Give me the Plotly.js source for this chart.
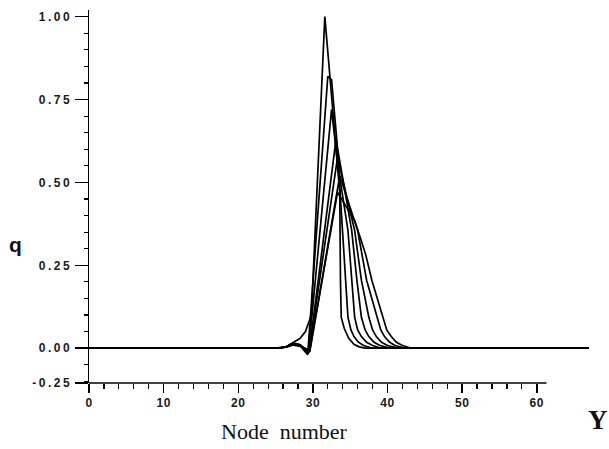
<!DOCTYPE html>
<html><head><meta charset="utf-8">
<script src="https://cdn.plot.ly/plotly-3.0.1.min.js"></script>
<style>
html,body{margin:0;padding:0;background:#fff}
.ytick text{letter-spacing:2.5px}
.xtick text{letter-spacing:0.5px}
</style>
</head><body><div id="chart" style="width:609px;height:449px"></div>
<script>
// Curves of q versus node number
const x0 = [0, 25, 26.5, 27.5, 28.3, 29.0, 29.8, 31.6, 32.7, 33.6, 33.7, 33.8, 34.2, 34.8, 35.5, 36.2, 37.0, 67];
const q0 = [0, 0, 0.005, 0.02, 0.03, 0.05, 0.10, 1.00, 0.72, 0.47, 0.20, 0.093, 0.06, 0.03, 0.012, 0.004, 0, 0];
const x1 = [0, 25.5, 26.5, 27.3, 28.2, 29.3, 32.0, 32.5, 33.2, 34.0, 34.4, 34.7, 35.1, 35.5, 36.1, 36.8, 38.0, 67];
const q1 = [0, 0, 0.005, 0.015, 0.01, -0.02, 0.82, 0.81, 0.63, 0.355, 0.205, 0.093, 0.055, 0.035, 0.018, 0.008, 0, 0];
const x2 = [0, 25.5, 26.5, 27.3, 28.3, 29.4, 32.5, 33.3, 34.7, 35.2, 35.6, 36.0, 36.5, 37.2, 38.0, 39.2, 67];
const q2 = [0, 0, 0.005, 0.015, 0.01, -0.015, 0.72, 0.56, 0.355, 0.205, 0.093, 0.055, 0.035, 0.018, 0.008, 0, 0];
const x3 = [0, 25.5, 26.5, 27.3, 28.3, 29.5, 33.1, 35.2, 35.9, 36.5, 37.0, 37.5, 38.2, 39.0, 40.3, 67];
const q3 = [0, 0, 0.005, 0.015, 0.01, -0.012, 0.63, 0.355, 0.205, 0.093, 0.055, 0.035, 0.018, 0.008, 0, 0];
const x4 = [0, 25.5, 26.5, 27.3, 28.3, 29.5, 33.3, 35.6, 36.5, 37.5, 38.0, 38.5, 39.2, 40.0, 41.4, 67];
const q4 = [0, 0, 0.005, 0.012, 0.008, -0.01, 0.575, 0.355, 0.205, 0.093, 0.055, 0.035, 0.018, 0.008, 0, 0];
const x5 = [0, 25.5, 26.5, 27.3, 28.3, 29.6, 33.6, 35.3, 36.0, 37.2, 38.6, 39.1, 39.6, 40.3, 41.0, 42.3, 67];
const q5 = [0, 0, 0.004, 0.01, 0.006, -0.008, 0.52, 0.40, 0.355, 0.205, 0.093, 0.055, 0.035, 0.018, 0.008, 0, 0];
const x6 = [0, 25.5, 26.5, 27.3, 28.3, 29.6, 33.3, 35.6, 36.4, 37.1, 37.9, 39.4, 39.9, 40.5, 41.2, 42.0, 43.2, 67];
const q6 = [0, 0, 0.004, 0.01, 0.006, -0.006, 0.47, 0.385, 0.33, 0.28, 0.205, 0.093, 0.055, 0.035, 0.018, 0.008, 0, 0];

const xTickVals = [0, 10, 20, 30, 40, 50, 60];
const xTickText = ["0", "10", "20", "30", "40", "50", "60"];
const yTickVals = [-0.105, 0, 0.25, 0.5, 0.75, 1.0];
const yTickText = ["-0.25", "0.00", "0.25", "0.50", "0.75", "1.00"];

const xs = [x0, x1, x2, x3, x4, x5, x6];
const qs = [q0, q1, q2, q3, q4, q5, q6];
const traces = xs.map((x, i) => ({
  x: x, y: qs[i], type: 'scatter', mode: 'lines',
  line: {color: '#000', width: 1.7},
  showlegend: false, hoverinfo: 'skip'
}));

const tickFont = {family: 'Liberation Sans, Arial, sans-serif', size: 12, color: '#1a1a1a', weight: 'bold'};
const xRange = [0, 67];
const yRange = [-0.105, 1.02];

const layout = {
  width: 609, height: 449,
  margin: {l: 89, r: 20, t: 10, b: 66},
  paper_bgcolor: '#fff', plot_bgcolor: '#fff',
  showlegend: false,
  xaxis: {
    range: xRange, showgrid: false, zeroline: false, showline: false,
    tickmode: 'array', tickvals: xTickVals, ticktext: xTickText,
    ticks: 'outside', ticklen: 9, tickwidth: 1.5, tickcolor: '#000',
    tickfont: tickFont,
    minor: {tickmode: 'array', tickvals: [2,4,6,8,12,14,16,18,22,24,26,28,32,34,36,38,42,44,46,48,52,54,56,58],
            ticks: 'outside', ticklen: 5, tickwidth: 1.2, tickcolor: '#000', showgrid: false}
  },
  xaxis2: {
    overlaying: 'x', anchor: 'y', side: 'bottom', range: xRange,
    showgrid: false, zeroline: false, showline: false, showticklabels: false,
    tickmode: 'array', tickvals: xTickVals,
    ticks: 'inside', ticklen: 12, tickwidth: 1.5, tickcolor: '#000'
  },
  yaxis: {
    range: yRange, showgrid: false, zeroline: false,
    showline: true, linecolor: '#000', linewidth: 1.5,
    tickmode: 'array', tickvals: yTickVals, ticktext: yTickText,
    ticks: 'outside', ticklen: 13, tickwidth: 1.5, tickcolor: '#000',
    tickfont: tickFont,
    minor: {tickmode: 'linear', tick0: 0, dtick: 0.05,
            ticks: 'outside', ticklen: 4, tickwidth: 1.2, tickcolor: '#000', showgrid: false}
  },
  yaxis2: {
    overlaying: 'y', anchor: 'x', side: 'left', range: yRange,
    showgrid: false, zeroline: false, showline: false, showticklabels: false,
    tickmode: 'array', tickvals: yTickVals,
    ticks: 'inside', ticklen: 13, tickwidth: 1.5, tickcolor: '#000'
  },
  shapes: [
    {type: 'line', xref: 'x', yref: 'paper', x0: 0, x1: 61.3, y0: 0, y1: 0,
     line: {color: '#000', width: 1.5}}
  ],
  annotations: [
    {text: 'Node\u00a0\u00a0number', xref: 'x', yref: 'paper', x: 26.2, y: -0.13,
     showarrow: false, xanchor: 'center', yanchor: 'middle',
     font: {family: 'Liberation Serif, Times New Roman, serif', size: 22, color: '#111'}},
    {text: '<b>q</b>', xref: 'paper', yref: 'paper', x: -0.148, y: 0.37,
     showarrow: false, xanchor: 'center', yanchor: 'middle',
     font: {family: 'Liberation Sans, Arial, sans-serif', size: 21, color: '#111'}},
    {text: '<b>Y</b>', xref: 'paper', yref: 'paper', x: 1.018, y: -0.1,
     showarrow: false, xanchor: 'center', yanchor: 'middle',
     font: {family: 'Liberation Serif, Times New Roman, serif', size: 27, color: '#111'}}
  ]
};

Plotly.newPlot('chart', traces, layout, {staticPlot: true, displayModeBar: false});
</script></body></html>
